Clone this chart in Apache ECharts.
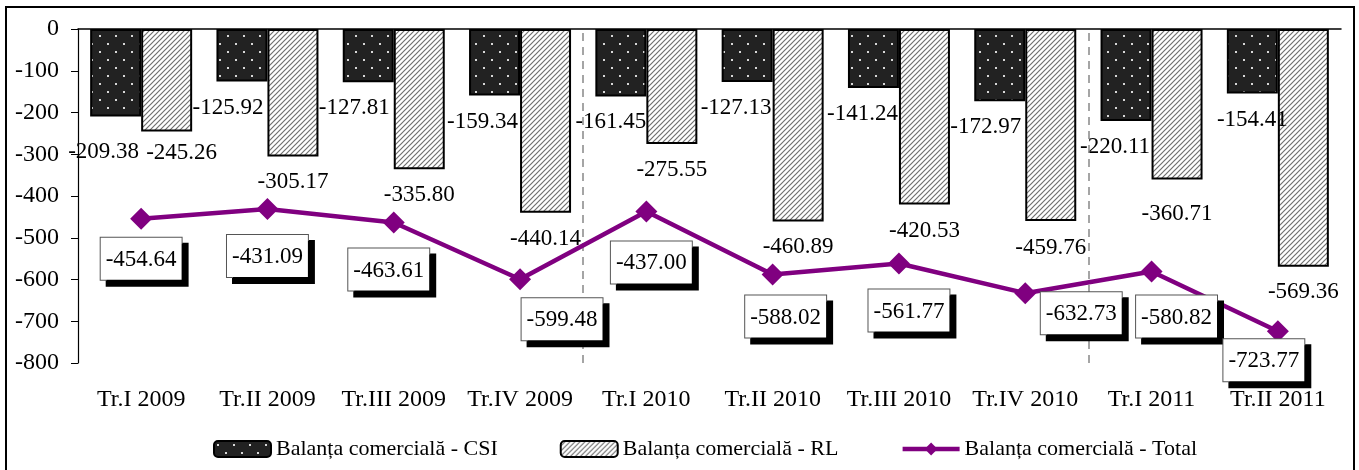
<!DOCTYPE html>
<html>
<head>
<meta charset="utf-8">
<script src="https://cdn.jsdelivr.net/npm/echarts@6/dist/echarts.min.js"></script>
<style>
  html, body { margin: 0; padding: 0; background: #fff; }
  #chart { width: 1359px; height: 470px; }
</style>
</head>
<body>
<div id="chart"></div>
<script>
const categories = ['Tr.I 2009', 'Tr.II 2009', 'Tr.III 2009', 'Tr.IV 2009', 'Tr.I 2010',
  'Tr.II 2010', 'Tr.III 2010', 'Tr.IV 2010', 'Tr.I 2011', 'Tr.II 2011']
const csiValues = [-209.38, -125.92, -127.81, -159.34, -161.45, -127.13, -141.24, -172.97, -220.11, -154.41]
const rlValues = [-245.26, -305.17, -335.80, -440.14, -275.55, -460.89, -420.53, -459.76, -360.71, -569.36]
const totalValues = [-454.64, -431.09, -463.61, -599.48, -437.00, -588.02, -561.77, -632.73, -580.82, -723.77]
const seriesNames = ['Balanța comercială - CSI', 'Balanța comercială - RL', 'Balanța comercială - Total']
// year separators sit on these category boundaries
const yearBreaks = [4, 8]

// label nudges (dx, dy in px)
const csiLabelShift = [[-12, 10], [-14, 0], [-14, 0], [-12, 0], [-10, 0], [-11, 0], [-11, 0], [-14, 0], [-11, 0], [0, 0]]
const rlLabelShift = [[15, -4], [0, 0], [0, 0], [0, 0], [0, 0], [0, 0], [0, 0], [0, 1], [0, 8], [0, -1]]
const totalLabelShift = [[0, 0], [0, 7], [-5, 7], [42, 0], [5, 11], [13, 2], [10, 7], [56, -20], [25, 5], [-14, -11]]

const font = "'Liberation Serif', 'Times New Roman', serif"

const dotPattern = () => {
  const c = document.createElement('canvas')
  c.width = 16
  c.height = 16
  const ctx = c.getContext('2d')
  ctx.fillStyle = '#222'
  ctx.fillRect(0, 0, 16, 16)
  ctx.fillStyle = '#d8d8d8'
  ctx.fillRect(3, 3, 2, 2)
  ctx.fillRect(11, 11, 2, 2)
  return c
}

const hatchPattern = () => {
  const c = document.createElement('canvas')
  c.width = 5
  c.height = 5
  const ctx = c.getContext('2d')
  ctx.fillStyle = '#fff'
  ctx.fillRect(0, 0, 5, 5)
  ctx.strokeStyle = '#707070'
  ctx.lineWidth = 1.2
  ctx.beginPath()
  ctx.moveTo(-1, 6); ctx.lineTo(6, -1)
  ctx.moveTo(-1, 1); ctx.lineTo(1, -1)
  ctx.moveTo(4, 6); ctx.lineTo(6, 4)
  ctx.stroke()
  return c
}

const fmt = p => p.value.toFixed(2)

const chart = echarts.init(document.getElementById('chart'))

const barLabel = {
  show: true,
  position: 'bottom',
  distance: 14,
  color: '#000',
  fontFamily: font,
  fontSize: 23,
  lineHeight: 24,
  formatter: fmt
}

const option = {
  animation: false,
  textStyle: { fontFamily: font },
  graphic: [{
    type: 'rect',
    shape: { x: 6, y: 7, width: 1348, height: 480 },
    style: { fill: 'none', stroke: '#000', lineWidth: 2 },
    silent: true
  }],
  grid: { left: 78, right: 18, top: 29, bottom: 107 },
  legend: {
    left: 208,
    top: 433,
    itemGap: 62,
    itemWidth: 57,
    itemHeight: 16,
    textStyle: { fontFamily: font, fontSize: 22, color: '#000' },
    data: [
      { name: seriesNames[0] },
      { name: seriesNames[1] },
      { name: seriesNames[2], itemStyle: { borderWidth: 0 }, lineStyle: { width: 4.5 } }
    ]
  },
  xAxis: [{
    type: 'category',
    data: categories,
    position: 'bottom',
    axisLine: { show: false },
    axisTick: { show: false },
    axisLabel: { color: '#000', fontFamily: font, fontSize: 24, margin: 25, interval: 0 },
    splitLine: { show: false }
  }, {
    type: 'category',
    data: categories,
    position: 'top',
    axisLine: { show: true, onZero: false, lineStyle: { color: '#000', width: 1.5 } },
    axisTick: { show: false },
    axisLabel: { show: false },
    splitLine: { show: false }
  }, {
    type: 'value',
    min: 0,
    max: categories.length,
    show: false
  }],
  yAxis: {
    type: 'value',
    min: -800,
    max: 0,
    interval: 100,
    axisLine: { show: true, lineStyle: { color: '#000', width: 1.2 } },
    axisTick: { show: true, length: 7, lineStyle: { color: '#000' } },
    axisLabel: { color: '#000', fontFamily: font, fontSize: 24, margin: 19 },
    splitLine: { show: false }
  },
  series: [
    {
      name: seriesNames[0],
      type: 'bar',
      barWidth: 51,
      barGap: '0%',
      itemStyle: {
        color: { image: dotPattern(), repeat: 'repeat' },
        borderColor: '#000',
        borderWidth: 2
      },
      label: barLabel,
      data: csiValues.map((v, i) => ({ value: v, label: { offset: csiLabelShift[i] } }))
    },
    {
      name: seriesNames[1],
      type: 'bar',
      barWidth: 51,
      barGap: '0%',
      itemStyle: {
        color: { image: hatchPattern(), repeat: 'repeat' },
        borderColor: '#000',
        borderWidth: 2
      },
      label: barLabel,
      data: rlValues.map((v, i) => ({ value: v, label: { offset: rlLabelShift[i] } }))
    },
    {
      name: seriesNames[2],
      type: 'line',
      z: 5,
      symbol: 'diamond',
      symbolSize: 22,
      lineStyle: { color: '#800080', width: 4.5 },
      itemStyle: { color: '#800080' },
      label: {
        show: true,
        position: 'bottom',
        distance: 8,
        color: '#000',
        fontFamily: font,
        fontSize: 23,
        lineHeight: 26,
        backgroundColor: '#fff',
        borderColor: '#555',
        borderWidth: 1,
        padding: [9, 5, 7, 5],
        shadowColor: '#000',
        shadowBlur: 0,
        shadowOffsetX: 6,
        shadowOffsetY: 6,
        formatter: fmt
      },
      data: totalValues.map((v, i) => ({ value: v, label: { offset: totalLabelShift[i] } }))
    },
    {
      name: 'separators',
      type: 'line',
      xAxisIndex: 2,
      data: [],
      silent: true,
      markLine: {
        symbol: 'none',
        silent: true,
        animation: false,
        label: { show: false },
        lineStyle: { color: '#888', type: [8, 6], width: 1.5 },
        data: yearBreaks.map(b => ({ xAxis: b }))
      }
    }
  ]
}

chart.setOption(option)
</script>
</body>
</html>
